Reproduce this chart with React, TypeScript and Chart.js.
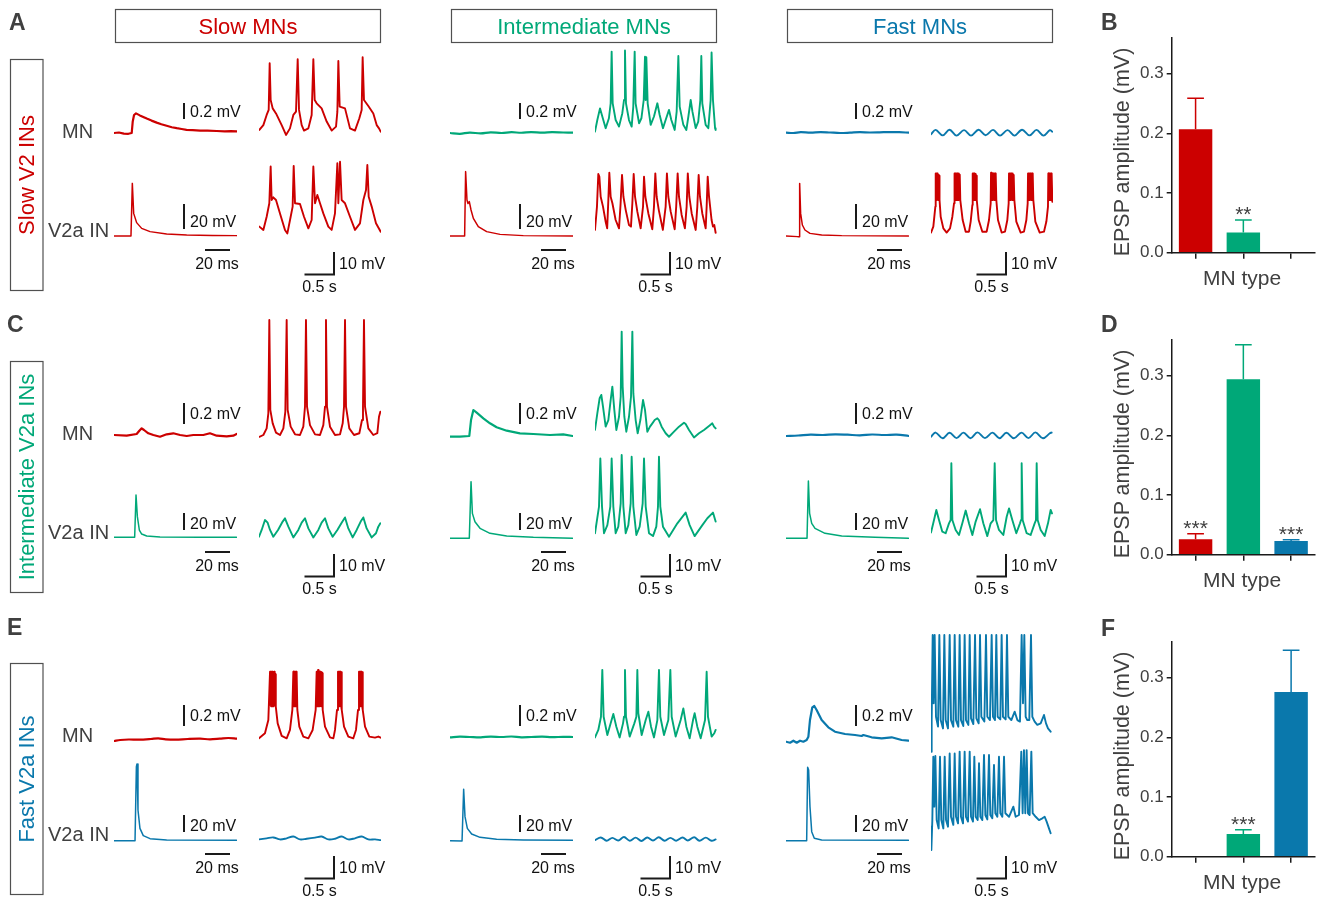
import React, { useEffect, useRef } from "react";
import { Chart, registerables } from "chart.js";

Chart.register(...registerables);

const RED = "#cc0000";
const GREEN = "#00a878";
const BLUE = "#0a78ac";
const INK = "#404040";
const BAR_INK = "#1a1a1a";
const FONT = "'Liberation Sans', Arial, Helvetica, sans-serif";
Chart.defaults.font.family = FONT;

// ---------------- recordings: flat [time, voltage] pairs ----------------
// single EPSP / spike sweeps: time in ms, voltage in mV (relative to rest)
// rhythm sweeps: time in s, voltage in mV (relative to rest)

// Row A: slow V2a INs
const aSlowMnEpsp = [0,0, 4,0.006, 8,-0.008, 11.7,-0.01, 14.4,0, 15.2,0.14, 16.3,0.225, 17.9,0.245, 21,0.22, 26.6,0.18, 30.5,0.155, 34.7,0.13, 38.5,0.11, 42.8,0.09, 47,0.072, 51,0.06, 55,0.05, 59,0.04, 64,0.036, 70,0.03, 76,0.03, 83.5,0.025, 90,0.02, 95,0.024, 99.7,0.02];
const aSlowMnRhythm = [0.006,1.4, 0.075,3.6, 0.132,8.2, 0.167,10.5, 0.184,31.7, 0.201,15, 0.236,11.2, 0.293,8.9, 0.391,3.6, 0.466,-0.9, 0.534,2.1, 0.592,8.2, 0.638,9.7, 0.667,33.5, 0.69,10.5, 0.736,3.6, 0.776,1.1, 0.851,2.1, 0.908,8.2, 0.937,33.5, 0.96,15, 0.994,13.5, 1.08,11.2, 1.167,5.2, 1.253,1.1, 1.328,2.9, 1.351,9.7, 1.368,32.7, 1.391,12, 1.483,11.2, 1.569,2.1, 1.655,1.1, 1.73,6.7, 1.77,10.5, 1.787,34.4, 1.81,15, 1.885,12.3, 1.971,8.9, 2.029,3.6, 2.069,2.1, 2.098,0.6];
const aSlowInSpike = [0,0, 13.8,0, 14.9,42.1, 16,18.1, 18.4,10.7, 22.5,6.1, 29.3,3.5, 42.8,1.6, 59.1,0.8, 80,0.4, 99.7,0.3];
const aSlowInRhythm = [0.006,2.9, 0.075,1.4, 0.132,7.4, 0.178,13.5, 0.201,30.2, 0.218,15, 0.247,16.2, 0.293,15, 0.362,8.9, 0.448,1.4, 0.489,-0.2, 0.546,7.4, 0.58,12, 0.598,30.5, 0.621,13.5, 0.707,13.2, 0.776,7.4, 0.851,2.1, 0.908,5.9, 0.937,30.2, 0.966,13.5, 1.006,17.3, 1.052,13.5, 1.109,8.9, 1.195,2.9, 1.253,1.4, 1.31,8.9, 1.351,31.7, 1.368,13.5, 1.397,32.4, 1.425,15, 1.483,13.5, 1.569,7.4, 1.655,1.4, 1.741,4.4, 1.799,15, 1.845,19.5, 1.868,30.9, 1.891,16.5, 1.943,12, 2.017,4.4, 2.098,0.6];

const aInterMnEpsp = [0,0, 8,-0.01, 16,0.005, 25,-0.005, 33,0.008, 42,0, 50,0.01, 58,0.003, 66,0.012, 75,0.004, 83,0.01, 92,0.006, 100,0.004];
const aInterMnRhythm = [0,0.6, 0.04,5.9, 0.086,11.2, 0.126,7.5, 0.184,2.2, 0.24,6.7, 0.27,13.5, 0.287,37, 0.305,13.5, 0.356,5.9, 0.414,2.9, 0.471,9, 0.5,15, 0.517,37.5, 0.534,13.5, 0.586,5.9, 0.632,2.9, 0.66,12, 0.684,37, 0.7,13.5, 0.76,4.4, 0.8,6.7, 0.84,15, 0.862,34.7, 0.874,15, 0.885,34.4, 0.908,13.5, 0.96,3.7, 1.017,7.5, 1.075,13.5, 1.115,8.2, 1.172,2.2, 1.218,5.9, 1.276,10.5, 1.316,5.9, 1.374,1.4, 1.408,9.7, 1.437,35, 1.46,12, 1.523,3.7, 1.575,1.4, 1.61,7.5, 1.65,15, 1.68,9.7, 1.736,2.2, 1.78,5.2, 1.816,15, 1.833,35, 1.85,13.5, 1.908,3.7, 1.954,2.2, 1.994,15, 2.01,36.6, 2.034,15, 2.07,2.2, 2.08,1.4];
const aInterInSpike = [0,0, 11.9,0, 12.7,51.5, 13.8,28.8, 14.6,26, 15.7,27.5, 17.1,20.8, 19,14.1, 23,7.5, 29.8,3.5, 40.7,1.3, 59.6,0.3, 99.7,0];
const aInterInRhythm = [0,1.4, 0.034,12, 0.057,26.8, 0.075,25.6, 0.098,16.5, 0.138,12, 0.184,5.1, 0.21,2.1, 0.23,15, 0.247,27.4, 0.27,16.5, 0.3,13.5, 0.356,5.9, 0.414,2.1, 0.44,12.7, 0.466,26.4, 0.49,16.5, 0.53,10.4, 0.586,3.6, 0.62,2.9, 0.644,13.5, 0.667,26.8, 0.69,16.5, 0.73,9.7, 0.787,2.1, 0.828,12, 0.845,25.6, 0.868,16.5, 0.92,8.9, 0.988,1.7, 1.017,12, 1.04,27.1, 1.063,16.5, 1.1,10.4, 1.17,1.4, 1.218,12, 1.24,27.1, 1.264,16.5, 1.305,9.7, 1.374,1.7, 1.4,12, 1.425,27.1, 1.448,16.5, 1.494,8.2, 1.55,2.1, 1.58,12, 1.6,27.1, 1.626,16.5, 1.667,8.9, 1.736,1.4, 1.764,12, 1.787,26.4, 1.81,16.5, 1.85,8.9, 1.908,2.1, 1.925,12, 1.943,25.6, 1.966,16.5, 2.01,5.9, 2.034,2.9, 2.057,3.6, 2.08,0.1];

const aFastMnEpsp = [0,0.005, 6,0, 12,0.01, 20,0.004, 28,0.012, 36,0.006, 44,0, 52,0.004, 60,0.01, 68,0.006, 76,0.008, 84,0.012, 92,0.01, 100,0.004];
const aFastMnRhythm = [0,-0.6, 0.08,1.4, 0.2,-1.1, 0.32,1.5, 0.44,-1.2, 0.57,1.3, 0.69,-1.2, 0.82,1.5, 0.94,-1.0, 1.07,1.4, 1.19,-1.2, 1.32,1.3, 1.44,-1.2, 1.57,1.5, 1.7,-1.1, 1.82,1.4, 1.94,-1.2, 2.05,1.3, 2.09,0.6];
const aFastInSpike = [0,0, 9.5,-0.5, 10.6,-0.5, 11.1,42.1, 11.9,18.1, 13.3,8.8, 15.4,4.8, 19.5,2.1, 29,0.8, 45.3,0.3, 99.5,0];
const aFastInRhythm = [0,0.2, 0.04,2.9, 0.075,12,
  0.081,27.1, 0.087,15, 0.093,27.1, 0.099,15.5, 0.105,27.1, 0.111,16, 0.117,27.1, 0.123,15, 0.129,26.4, 0.135,15.5, 0.141,26, 0.147,15,
  0.167,7.4, 0.213,2.1, 0.27,0.2,
  0.328,2.1, 0.368,7.4, 0.397,13.5,
  0.403,27.1, 0.409,15, 0.415,27.1, 0.421,15.5, 0.427,27.1, 0.433,15, 0.439,27.1, 0.445,16, 0.451,27.1, 0.457,15, 0.463,27.1, 0.469,15.5, 0.475,27.1, 0.481,15, 0.487,26.5, 0.493,16, 0.499,26, 0.505,15, 0.511,15,
  0.546,5.9, 0.598,0.6, 0.655,0.6,
  0.684,5.2, 0.713,12.7,
  0.719,27.1, 0.725,15, 0.731,27.1, 0.737,15.5, 0.743,27.1, 0.749,15, 0.755,26.8, 0.761,15.5, 0.767,26.8, 0.773,15, 0.779,26, 0.785,15, 0.793,15,
  0.822,5.9, 0.885,0.6, 0.96,0.6,
  1,5.9, 1.029,13.5,
  1.035,27.4, 1.041,15, 1.047,27.1, 1.053,15.5, 1.059,27.1, 1.065,15, 1.071,27.1, 1.077,16, 1.083,27.1, 1.089,15, 1.095,27.1, 1.101,15.5, 1.107,27.1, 1.113,15, 1.119,26.5, 1.126,15,
  1.155,5.9, 1.218,0.2, 1.276,0.6,
  1.316,5.9, 1.339,13.5,
  1.345,27.1, 1.351,15, 1.357,27.1, 1.363,15.5, 1.369,27.1, 1.375,15, 1.381,27.1, 1.387,16, 1.393,27.1, 1.399,15, 1.405,27.1, 1.411,15.5, 1.417,26.4, 1.423,15, 1.429,26, 1.437,15,
  1.471,5.2, 1.546,0.2, 1.603,0.6,
  1.644,5.9, 1.667,13.5,
  1.673,27.1, 1.679,15, 1.685,27.1, 1.691,15.5, 1.697,27.1, 1.703,15, 1.709,27.1, 1.715,16, 1.721,27.1, 1.727,15, 1.733,27.1, 1.739,15.5, 1.745,27.1, 1.751,15, 1.757,26.5, 1.764,15,
  1.799,5.2, 1.874,0.2, 1.948,0.6,
  1.989,5.2, 2.017,12,
  2.023,27.1, 2.029,15, 2.035,27.1, 2.041,15.5, 2.047,27.1, 2.053,15, 2.059,27.1, 2.065,16, 2.071,27.1, 2.077,15, 2.083,27.1, 2.092,14.2];

// Row C: intermediate V2a INs
const cSlowMnEpsp = [0,0, 10.3,-0.007, 18.4,0.01, 20.6,0.043, 22.5,0.067, 24.4,0.05, 27.9,0.017, 32,0, 37.4,-0.017, 42.8,0.007, 48.2,0.017, 53.7,0, 59.1,-0.01, 64.5,0, 72.6,0, 78,0.017, 83.5,-0.007, 91.6,-0.013, 97,-0.007, 99.7,0.01];
const cSlowMnRhythm = [0.006,-0.8, 0.075,0, 0.132,3, 0.161,9.8, 0.178,52.3, 0.195,11.4, 0.236,5.3, 0.293,1.1, 0.362,0, 0.42,3, 0.454,10.6, 0.477,52.3, 0.494,11.4, 0.546,3.8, 0.621,0.3, 0.707,0, 0.764,3.8, 0.793,12.9, 0.81,52.3, 0.828,12.9, 0.879,4.5, 0.966,0.3, 1.052,0, 1.109,4.5, 1.138,12.9, 1.155,52.3, 1.172,12.9, 1.224,3.8, 1.31,0, 1.397,0.3, 1.443,5.3, 1.466,12.9, 1.483,52.3, 1.5,12.9, 1.557,3, 1.638,0, 1.73,0.8, 1.776,6.8, 1.793,12.9, 1.81,52.3, 1.828,12.9, 1.885,3, 1.971,0, 2.04,0.8, 2.069,8.3, 2.092,10.6];
const cSlowInSpike = [0,0.8, 16.8,0.8, 17.9,50.6, 19,25.1, 20.6,9.4, 22.5,4.7, 26.6,2.4, 37.4,1.2, 69.9,0.8, 99.7,0.8];
const cSlowInRhythm = [0,-0.8, 0.046,2.3, 0.103,6.8, 0.149,5.6, 0.19,2.3, 0.247,-0.8, 0.328,2.3, 0.408,6.1, 0.448,7.6, 0.506,3.8, 0.592,-1.1, 0.678,2.3, 0.736,5.6, 0.793,7.6, 0.851,3, 0.937,-1.1, 1.023,2.3, 1.08,5.6, 1.138,7.6, 1.195,3, 1.27,-0.8, 1.351,2.3, 1.425,5.6, 1.483,8, 1.54,3, 1.615,-1.1, 1.684,2.3, 1.753,6.1, 1.799,8, 1.856,3, 1.943,-1.1, 2.017,0.8, 2.057,3.8, 2.092,5.3];

const cInterMnEpsp = [0,-0.017, 8.1,-0.017, 15.7,-0.01, 17.1,0.15, 19,0.25, 21.7,0.223, 27.1,0.167, 32.5,0.117, 37.9,0.077, 46.1,0.043, 56.9,0.017, 67.8,0.01, 81.3,0, 92.1,0.007, 99.7,-0.01];
const cInterMnRhythm = [0,2.3, 0.04,9.8, 0.08,16.7, 0.109,18.2, 0.138,12.9, 0.184,3.8, 0.23,6.8, 0.27,15.9, 0.299,22, 0.333,11.4, 0.368,2.3, 0.414,8.3, 0.443,17.4, 0.46,47, 0.477,22, 0.506,8.3, 0.54,1.5, 0.586,8.3, 0.621,17.4, 0.644,47, 0.661,18.9, 0.701,6.8, 0.736,0.8, 0.782,6.8, 0.828,15.9, 0.862,11.4, 0.902,1.5, 0.948,3.8, 0.989,5.3, 1.029,6.8, 1.075,7.6, 1.103,6.8, 1.149,3.8, 1.218,0.8, 1.276,-0.8, 1.362,1.5, 1.448,3.8, 1.534,5.6, 1.563,5, 1.621,2.3, 1.707,-1.1, 1.793,0.8, 1.879,2.3, 1.966,4.1, 2.023,5.3, 2.052,3.8, 2.08,3];
const cInterInSpike = [0,-0.4, 15.7,-0.4, 17.1,66.3, 18.2,29, 20.3,19.2, 24.4,11.4, 32.5,5.5, 46.1,2.4, 67.8,0.8, 99.7,-0.4];
const cInterInRhythm = [0,0.8, 0.069,12.9, 0.092,34.8, 0.121,12.9, 0.155,0.8, 0.213,4.5, 0.264,12.9, 0.287,34.8, 0.316,12.9, 0.356,0.8, 0.402,3.8, 0.443,14.4, 0.46,36.4, 0.489,12.9, 0.529,0.8, 0.575,4.5, 0.615,14.4, 0.632,35.6, 0.661,12.9, 0.713,0, 0.77,3.8, 0.822,14.4, 0.845,34.8, 0.874,12.9, 0.931,0.8, 1,-0.5, 1.057,3.8, 1.086,12.9, 1.103,35.6, 1.126,12.9, 1.172,3.8, 1.276,-0.8, 1.42,5.3, 1.563,10.2, 1.632,4.5, 1.718,-0.5, 1.851,4.5, 1.937,7.6, 2.034,10.2, 2.08,6.1];

const cFastMnEpsp = [0,-0.01, 10,-0.005, 20,0.003, 30,0, 40,0.007, 50,0.003, 60,-0.003, 70,0.005, 80,0, 90,0.004, 100,-0.01];
const cFastMnRhythm = [0,-0.8, 0.08,1.1, 0.2,-1.5, 0.32,1.0, 0.44,-1.4, 0.56,1.1, 0.68,-1.5, 0.8,1.2, 0.93,-1.4, 1.06,1.1, 1.18,-1.5, 1.3,1.0, 1.43,-1.5, 1.56,1.1, 1.68,-1.4, 1.8,1.2, 1.93,-1.5, 2.05,0.8, 2.08,1.1];
const cFastInSpike = [0,-0.4, 17.1,-0.4, 18.2,67, 19.2,29, 20.9,17.3, 23.6,11.4, 31.7,5.5, 45.3,2.4, 72.4,0.8, 99.5,-0.4];
const cFastInRhythm = [0,1.1, 0.052,6.8, 0.092,11.4, 0.138,6.8, 0.195,1.5, 0.253,0.8, 0.31,5.3, 0.339,6.8, 0.351,32.6, 0.368,6.8, 0.425,2.3, 0.483,0, 0.54,5.3, 0.598,11.1, 0.655,5.3, 0.713,0, 0.77,6.1, 0.845,11.7, 0.902,5.3, 0.971,-0.5, 1.029,5.3, 1.075,6.8, 1.098,32.6, 1.121,6.8, 1.172,2.3, 1.247,0, 1.305,8.3, 1.345,12.1, 1.402,6.8, 1.471,0.8, 1.534,5.3, 1.552,6.8, 1.563,32.6, 1.58,6.8, 1.649,0.8, 1.718,0, 1.787,5.3, 1.81,6.8, 1.822,32.6, 1.839,6.8, 1.891,2.3, 1.96,-0.5, 2.017,5.3, 2.063,11.4, 2.086,9.8];

// Row E: fast V2a INs
const eSlowMnEpsp = [0,-0.04, 5,-0.03, 12,-0.025, 20,-0.027, 30,-0.02, 36,-0.013, 42,-0.023, 50,-0.027, 60,-0.02, 70,-0.017, 78,-0.023, 86,-0.017, 93,-0.01, 100,-0.017];
const eSlowMnRhythm = [0,-0.6, 0.103,1.7, 0.161,7.7,
  0.19,29.7, 0.196,14.5, 0.202,29.7, 0.208,14, 0.214,29.7, 0.22,14.5, 0.226,29.7, 0.232,14, 0.238,29.7, 0.244,14.5, 0.25,29.5, 0.256,14, 0.262,29.7, 0.268,14.5, 0.274,29, 0.28,15, 0.286,28.5, 0.293,13.8,
  0.322,6.2, 0.391,0.5, 0.477,-0.6,
  0.534,3.2, 0.575,12.3,
  0.592,29.7, 0.598,14, 0.604,29.7, 0.61,14.5, 0.616,29.7, 0.622,14, 0.628,29.7, 0.634,14.5, 0.64,29.7, 0.646,14, 0.652,29, 0.661,12.3,
  0.695,4.7, 0.764,0.2, 0.851,-0.6,
  0.925,3.2, 0.977,12.3,
  0.994,29.7, 1,14, 1.006,29.7, 1.012,14.5, 1.018,30.5, 1.024,14, 1.03,30.5, 1.036,14.5, 1.042,29.7, 1.048,14, 1.054,29.7, 1.06,14.5, 1.066,29.7, 1.072,14, 1.078,29.5, 1.084,14.5, 1.09,29, 1.098,12.3,
  1.138,4.7, 1.224,-0.2, 1.282,-0.6,
  1.31,3.2, 1.345,12.3,
  1.362,29.7, 1.368,14, 1.374,29.7, 1.38,14.5, 1.386,29.7, 1.392,14, 1.398,29.7, 1.404,14.5, 1.41,29.7, 1.416,14, 1.422,29.5, 1.431,12.3,
  1.466,4.7, 1.54,0.2, 1.626,-0.6,
  1.672,3.2, 1.707,12.3,
  1.724,29.7, 1.73,14, 1.736,29.7, 1.742,14.5, 1.748,29.7, 1.754,14, 1.76,29.7, 1.766,14.5, 1.772,29.7, 1.778,14, 1.784,29.5, 1.793,12.3,
  1.828,4.7, 1.902,0.2, 2,-0.3, 2.057,0.2, 2.098,-0.3];
const eSlowInSpike = [0,-0.8, 17.1,-0.8, 18.2,86.3, 18.7,89.4, 19.5,35.3, 21.1,13.7, 23.8,5.1, 29.3,1.6, 42.8,0, 99.7,-0.4];
const eSlowInRhythm = [0,-1.1, 0.132,-0.6, 0.247,-0.2, 0.362,-1.1, 0.477,-0.6, 0.592,0.2, 0.707,-1.1, 0.822,-0.8, 0.966,-0.3, 1.08,0.2, 1.195,-1.1, 1.31,-0.8, 1.425,0.2, 1.54,-1.1, 1.655,-0.6, 1.77,0.2, 1.885,-1.1, 2,-1.1, 2.098,-1.4];

const eInterMnEpsp = [0,-0.003, 8,0.003, 16,0, 25,-0.003, 33,0.004, 42,0, 50,0.005, 58,-0.003, 66,0, 75,0.003, 83,-0.002, 92,0.002, 100,0];
const eInterMnRhythm = [0,-0.2, 0.057,3.2, 0.103,9.2, 0.126,30.5, 0.149,9.2, 0.213,0.9, 0.27,6.2, 0.316,10.5, 0.368,4.7, 0.425,-0.2, 0.483,6.2, 0.5,9.2, 0.517,30.5, 0.534,9.2, 0.598,0.2, 0.678,6.2, 0.713,9.2, 0.73,30.5, 0.747,10.8, 0.805,0.9, 0.874,7.7, 0.92,11.5, 0.966,4.7, 1.017,-0.2, 1.075,7.7, 1.103,30.5, 1.126,9.2, 1.19,0.9, 1.264,7.7, 1.299,30.5, 1.322,9.2, 1.391,0.2, 1.477,7.7, 1.523,13, 1.575,4.7, 1.632,-0.6, 1.69,7.7, 1.718,10.8, 1.764,4.7, 1.822,-0.6, 1.897,7.7, 1.925,29.7, 1.948,9.2, 2.011,0.2, 2.057,1.7, 2.08,3.2];
const eInterInSpike = [0,-0.8, 9.8,-1.2, 10.3,-1.2, 11.1,59.6, 12.2,27.5, 14.1,13.7, 17.6,7.1, 24.4,3.1, 37.9,0.8, 59.6,0, 99.7,-0.4];
const eInterInRhythm = [0,-1.4, 0.1,-0.2, 0.2,-1.7, 0.3,-0.4, 0.4,-1.6, 0.5,0, 0.6,-1.7, 0.7,-0.3, 0.8,-1.8, 0.9,-0.2, 1,-1.6, 1.1,-0.1, 1.2,-1.7, 1.3,-0.4, 1.4,-1.7, 1.51,-0.2, 1.6,-1.6, 1.71,-0.1, 1.8,-1.7, 1.91,-0.3, 2.01,-1.7, 2.08,-1.1];

const eFastMnEpsp = [0,-0.047, 3.3,-0.057, 6,-0.037, 8.7,-0.057, 11.4,-0.037, 14.1,-0.047, 16.8,-0.03, 18.2,0.003, 19.5,0.17, 21.4,0.297, 23,0.31, 24.9,0.27, 29,0.17, 34.4,0.097, 39.8,0.053, 48,0.03, 56.1,0.02, 61.5,0.01, 62.9,0.02, 69.6,-0.003, 77.8,-0.013, 85.9,-0.003, 94,-0.03, 99.5,-0.037];
const eFastMnRhythm = [0,1.7, 0.006,-6.7, 0.017,7.7, 0.029,46.4, 0.046,15.3, 0.063,46.4, 0.086,9.2, 0.121,4.7, 0.144,46.4, 0.167,7.7, 0.207,3.9, 0.23,46.4, 0.253,7.7, 0.293,3.9, 0.322,46.4, 0.345,7.7, 0.385,4.7, 0.408,46.4, 0.431,7.7, 0.471,4.7, 0.494,46.4, 0.517,7.7, 0.557,5, 0.58,46.4, 0.603,7.7, 0.644,5.5, 0.667,46.4, 0.69,8.5, 0.73,5.9, 0.759,46.4, 0.782,8.5, 0.822,6.2, 0.845,46.4, 0.868,9.2, 0.92,7, 0.948,46.4, 0.971,9.2, 1.017,7.7, 1.046,46.4, 1.069,9.2, 1.103,7.7, 1.126,46.4, 1.149,9.2, 1.195,8, 1.218,46.4, 1.241,9.2, 1.287,8, 1.31,46.4, 1.333,9.2, 1.385,7.7, 1.443,11.5, 1.489,7.7, 1.534,7, 1.563,46.4, 1.586,15.3, 1.609,46.4, 1.632,9.2, 1.66,7.7, 1.695,7.7, 1.724,46.4, 1.747,9.2, 1.787,7, 1.833,5.5, 1.891,6.2, 1.948,10, 1.983,6.2, 2.017,3.9, 2.063,2.4];
const eFastInSpike = [0,-0.8, 16.8,-0.8, 17.6,85.5, 18.4,82.4, 19.5,39.2, 20.9,9.8, 23,2, 29,0, 99.5,-0.4];
const eFastInRhythm = [0,4.7, 0.006,-5.9, 0.023,7.7, 0.04,36.5, 0.057,13.8, 0.075,36.8, 0.098,7.7, 0.132,3.9, 0.155,36.5, 0.178,7.7, 0.213,3.9, 0.236,36.5, 0.259,7.7, 0.293,4.7, 0.322,38, 0.345,9.2, 0.385,5.5, 0.408,38, 0.431,9.2, 0.466,6.2, 0.494,38.8, 0.517,9.2, 0.552,6.2, 0.58,38.8, 0.603,9.2, 0.638,7, 0.667,38.8, 0.69,9.2, 0.724,7, 0.747,36.5, 0.77,9.2, 0.805,7.7, 0.828,33.5, 0.851,9.2, 0.885,7.7, 0.914,37.3, 0.937,10, 0.971,8, 1,37.3, 1.023,10, 1.057,8.5, 1.086,32.7, 1.109,10.8, 1.144,9.2, 1.172,36.5, 1.195,10.8, 1.23,9.2, 1.259,36.5, 1.282,10.8, 1.345,9.2, 1.42,13.8, 1.46,9.2, 1.517,10, 1.557,38.8, 1.58,10.8, 1.603,39.5, 1.626,10.8, 1.649,39.5, 1.672,10.8, 1.701,10, 1.73,38.8, 1.753,10.8, 1.805,9.2, 1.862,7.7, 1.92,8.5, 1.96,9.2, 1.994,7, 2.034,3.9, 2.063,1.7];

const smoothTraces = new Set([aInterMnEpsp, aFastMnEpsp, aFastMnRhythm, cFastMnEpsp, cFastMnRhythm, eSlowMnEpsp, eSlowInRhythm, eInterMnEpsp, eInterInRhythm]);

// ---------------- bar panels (EPSP amplitude, mV) ----------------
const mnTypes = ["Slow", "Intermediate", "Fast"];
const epspB = [0.207, 0.034, null];
const semB = [0.052, 0.021, null];
const sigB = ["", "**", ""];
const epspD = [0.026, 0.294, 0.023];
const semD = [0.009, 0.058, 0.002];
const sigD = ["***", "", "***"];
const epspF = [null, 0.038, 0.276];
const semF = [null, 0.007, 0.07];
const sigF = ["", "***", ""];
const yTicks = [0, 0.1, 0.2, 0.3];

const typeColors = [RED, GREEN, BLUE];
const columnTitles = ["Slow MNs", "Intermediate MNs", "Fast MNs"];
const rowTitles = ["Slow V2 INs", "Intermediate V2a INs", "Fast V2a INs"];

// ---------------- layout ----------------
const rowY = [0, 302, 604];
const colX = [0, 336, 672];
const mnEpspPx = [80, 100, 100]; // px per mV (0.2 mV bar)
const inSpikePx = [1.25, 0.85, 0.85]; // px per mV (20 mV bar)
const rhythmPx = 2.2; // px per mV (10 mV bar)
const mnBar = [[103, 119], [101, 122], [101, 122]];
const inBar = [[204, 229], [211, 228], [211, 228]];

const groups = [
  { r: 0, c: 0, mnEpsp: aSlowMnEpsp, mnRhythm: aSlowMnRhythm, inSpike: aSlowInSpike, inRhythm: aSlowInRhythm },
  { r: 0, c: 1, mnEpsp: aInterMnEpsp, mnRhythm: aInterMnRhythm, inSpike: aInterInSpike, inRhythm: aInterInRhythm },
  { r: 0, c: 2, mnEpsp: aFastMnEpsp, mnRhythm: aFastMnRhythm, inSpike: aFastInSpike, inRhythm: aFastInRhythm },
  { r: 1, c: 0, mnEpsp: cSlowMnEpsp, mnRhythm: cSlowMnRhythm, inSpike: cSlowInSpike, inRhythm: cSlowInRhythm },
  { r: 1, c: 1, mnEpsp: cInterMnEpsp, mnRhythm: cInterMnRhythm, inSpike: cInterInSpike, inRhythm: cInterInRhythm },
  { r: 1, c: 2, mnEpsp: cFastMnEpsp, mnRhythm: cFastMnRhythm, inSpike: cFastInSpike, inRhythm: cFastInRhythm },
  { r: 2, c: 0, mnEpsp: eSlowMnEpsp, mnRhythm: eSlowMnRhythm, inSpike: eSlowInSpike, inRhythm: eSlowInRhythm },
  { r: 2, c: 1, mnEpsp: eInterMnEpsp, mnRhythm: eInterMnRhythm, inSpike: eInterInSpike, inRhythm: eInterInRhythm },
  { r: 2, c: 2, mnEpsp: eFastMnEpsp, mnRhythm: eFastMnRhythm, inSpike: eFastInSpike, inRhythm: eFastInRhythm },
];

function Trace(props: any) {
  const { x, y, w, h, base, pxPerUnit, xMax, pts, color, lw } = props;
  const ref = useRef<HTMLCanvasElement | null>(null);
  useEffect(() => {
    const data: { x: number; y: number }[] = [];
    for (let i = 0; i + 1 < pts.length; i += 2) data.push({ x: pts[i], y: pts[i + 1] });
    const smooth = smoothTraces.has(pts);
    const chart = new Chart(ref.current as HTMLCanvasElement, {
      type: "line",
      data: {
        datasets: [
          {
            data,
            borderColor: color,
            borderWidth: lw,
            pointRadius: 0,
            tension: smooth ? 0.35 : 0,
            fill: false,
            clip: false,
            borderJoinStyle: "round",
            borderCapStyle: "round",
          } as any,
        ],
      },
      options: {
        animation: false,
        responsive: false,
        maintainAspectRatio: false,
        events: [],
        layout: { padding: 0 },
        plugins: { legend: { display: false }, tooltip: { enabled: false } },
        scales: {
          x: { type: "linear", display: false, min: 0, max: xMax },
          y: { type: "linear", display: false, min: -(h - base) / pxPerUnit, max: base / pxPerUnit },
        },
      },
    });
    return () => chart.destroy();
  }, []);
  return (
    <canvas
      ref={ref}
      width={w}
      height={h}
      style={{ position: "absolute", left: x, top: y, width: w, height: h }}
    />
  );
}

function BarPanel(props: any) {
  const { top, values, errs, sig } = props;
  const ref = useRef<HTMLCanvasElement | null>(null);
  useEffect(() => {
    const semPlugin = {
      id: "semBars",
      afterDatasetsDraw(chart: any) {
        const ctx = chart.ctx;
        const meta = chart.getDatasetMeta(0);
        const ys = chart.scales.y;
        meta.data.forEach((bar: any, i: number) => {
          const v = values[i];
          if (v == null) return;
          const e = errs[i] || 0;
          const bx = bar.x;
          const bw = bar.width;
          const y0 = ys.getPixelForValue(v);
          const y1 = ys.getPixelForValue(v + e);
          ctx.save();
          ctx.strokeStyle = typeColors[i];
          ctx.lineWidth = 1.5;
          if (e > 0) {
            ctx.beginPath();
            ctx.moveTo(bx, y0);
            ctx.lineTo(bx, y1);
            ctx.moveTo(bx - bw / 4, y1);
            ctx.lineTo(bx + bw / 4, y1);
            ctx.stroke();
          }
          if (sig[i]) {
            ctx.fillStyle = INK;
            ctx.font = `21px ${FONT}`;
            ctx.textAlign = "center";
            ctx.textBaseline = "alphabetic";
            ctx.fillText(sig[i], bx, y1 + 1);
          }
          ctx.restore();
        });
      },
    };
    const chart = new Chart(ref.current as HTMLCanvasElement, {
      type: "bar",
      data: {
        labels: mnTypes,
        datasets: [
          {
            data: values,
            backgroundColor: typeColors,
            borderWidth: 0,
            barPercentage: 0.7,
            categoryPercentage: 1,
          } as any,
        ],
      },
      options: {
        animation: false,
        responsive: false,
        maintainAspectRatio: false,
        events: [],
        layout: { padding: { top: 38, right: 2, left: 0, bottom: 0 } },
        plugins: { legend: { display: false }, tooltip: { enabled: false } },
        scales: {
          x: {
            type: "category",
            offset: true,
            grid: { display: true, offset: false, drawOnChartArea: false, drawTicks: true, tickLength: 6, color: BAR_INK, lineWidth: 1.5 },
            border: { display: true, color: BAR_INK, width: 1.5 },
            ticks: { display: false },
            afterFit: (s: any) => {
              s.height = 47.3;
            },
          },
          y: {
            type: "linear",
            min: 0,
            max: 0.36,
            grid: { drawOnChartArea: false, drawTicks: true, tickLength: 5, color: BAR_INK, lineWidth: 1.5 },
            border: { display: true, color: BAR_INK, width: 1.5 },
            afterBuildTicks: (s: any) => {
              s.ticks = yTicks.map((v) => ({ value: v }));
            },
            ticks: {
              padding: 3,
              color: INK,
              font: { family: FONT, size: 17 },
              callback: (v: any) => Number(v).toFixed(1),
            },
            afterFit: (s: any) => {
              s.width = 76.7;
            },
          },
        },
      } as any,
      plugins: [semPlugin],
    });
    return () => chart.destroy();
  }, []);
  return (
    <canvas
      ref={ref}
      width={222}
      height={300}
      style={{ position: "absolute", left: 1095, top, width: 222, height: 300 }}
    />
  );
}

function Annotations() {
  const els: any[] = [];
  const letters: [string, number, number][] = [
    ["A", 9, 30], ["B", 1101, 30], ["C", 7, 332], ["D", 1101, 332], ["E", 7, 635], ["F", 1101, 636],
  ];
  letters.forEach(([t, x, y]) =>
    els.push(
      <text key={"L" + t} x={x} y={y} fontSize={23} fontWeight="bold" fill={INK}>
        {t}
      </text>
    )
  );
  colX.forEach((X, c) => {
    els.push(<rect key={"hb" + c} x={115.5 + X} y={9.5} width={265} height={33} fill="none" stroke="#505050" strokeWidth={1.2} />);
    els.push(
      <text key={"ht" + c} x={248 + X} y={34} fontSize={22} textAnchor="middle" fill={typeColors[c]}>
        {columnTitles[c]}
      </text>
    );
  });
  rowY.forEach((Y, r) => {
    els.push(<rect key={"rb" + r} x={10.5} y={59.5 + Y} width={32.5} height={231} fill="none" stroke="#505050" strokeWidth={1.2} />);
    els.push(
      <text
        key={"rt" + r}
        transform={`translate(26.7 ${175 + Y}) rotate(-90)`}
        fontSize={22}
        textAnchor="middle"
        dominantBaseline="central"
        fill={typeColors[r]}
      >
        {rowTitles[r]}
      </text>
    );
    els.push(
      <text key={"mn" + r} x={62} y={138 + Y} fontSize={20} fill={INK}>
        MN
      </text>
    );
    els.push(
      <text key={"in" + r} x={48} y={237 + Y} fontSize={20} fill={INK}>
        V2a IN
      </text>
    );
    colX.forEach((X, c) => {
      const k = r + "_" + c;
      els.push(<line key={"b1" + k} x1={184 + X} x2={184 + X} y1={Y + mnBar[r][0]} y2={Y + mnBar[r][1]} stroke={BAR_INK} strokeWidth={2} />);
      els.push(
        <text key={"t1" + k} x={190 + X} y={Y + 117} fontSize={16} fill="#111">
          0.2 mV
        </text>
      );
      els.push(<line key={"b2" + k} x1={184 + X} x2={184 + X} y1={Y + inBar[r][0]} y2={Y + inBar[r][1]} stroke={BAR_INK} strokeWidth={2} />);
      els.push(
        <text key={"t2" + k} x={190 + X} y={Y + 227} fontSize={16} fill="#111">
          20 mV
        </text>
      );
      els.push(<line key={"b3" + k} x1={205 + X} x2={230 + X} y1={Y + 250} y2={Y + 250} stroke={BAR_INK} strokeWidth={2} />);
      els.push(
        <text key={"t3" + k} x={217 + X} y={Y + 269} fontSize={16} textAnchor="middle" fill="#111">
          20 ms
        </text>
      );
      els.push(
        <polyline
          key={"b4" + k}
          points={`${334 + X},${Y + 252} ${334 + X},${Y + 274.5} ${304.5 + X},${Y + 274.5}`}
          fill="none"
          stroke={BAR_INK}
          strokeWidth={2}
        />
      );
      els.push(
        <text key={"t4" + k} x={339 + X} y={Y + 269} fontSize={16} fill="#111">
          10 mV
        </text>
      );
      els.push(
        <text key={"t5" + k} x={319.5 + X} y={Y + 292} fontSize={16} textAnchor="middle" fill="#111">
          0.5 s
        </text>
      );
    });
    // bar panel axis titles
    els.push(
      <text
        key={"yt" + r}
        transform={`translate(1122 ${152 + Y}) rotate(-90)`}
        fontSize={21.5}
        textAnchor="middle"
        dominantBaseline="central"
        fill={INK}
      >
        EPSP amplitude (mV)
      </text>
    );
    els.push(
      <text key={"xt" + r} x={1242} y={285 + Y} fontSize={21} textAnchor="middle" fill={INK}>
        MN type
      </text>
    );
  });
  return (
    <svg
      width={1317}
      height={901}
      style={{ position: "absolute", left: 0, top: 0, pointerEvents: "none" }}
      fontFamily={FONT}
    >
      {els}
    </svg>
  );
}

export default function App() {
  const traces: any[] = [];
  groups.forEach((g) => {
    const X = colX[g.c];
    const Y = rowY[g.r];
    const mnColor = typeColors[g.c];
    const inColor = typeColors[g.r];
    const k = g.r + "_" + g.c;
    traces.push(
      <Trace key={"me" + k} x={114 + X} y={40 + Y} w={123} h={115} base={93} pxPerUnit={mnEpspPx[g.r]} xMax={100} pts={g.mnEpsp} color={mnColor} lw={2.2} />
    );
    traces.push(
      <Trace key={"is" + k} x={114 + X} y={150 + Y} w={123} h={100} base={86} pxPerUnit={inSpikePx[g.r]} xMax={100} pts={g.inSpike} color={inColor} lw={1.5} />
    );
    traces.push(
      <Trace key={"mr" + k} x={259 + X} y={10 + Y} w={122} h={142} base={123} pxPerUnit={rhythmPx} xMax={122 / 58} pts={g.mnRhythm} color={mnColor} lw={1.9} />
    );
    traces.push(
      <Trace key={"ir" + k} x={259 + X} y={140 + Y} w={122} h={120} base={93} pxPerUnit={rhythmPx} xMax={122 / 58} pts={g.inRhythm} color={inColor} lw={1.9} />
    );
  });
  const panels = [
    { values: epspB, errs: semB, sig: sigB },
    { values: epspD, errs: semD, sig: sigD },
    { values: epspF, errs: semF, sig: sigF },
  ];
  return (
    <div
      style={{
        position: "absolute",
        left: 0,
        top: 0,
        width: 1317,
        height: 901,
        background: "#ffffff",
        overflow: "hidden",
        fontFamily: FONT,
      }}
    >
      {traces}
      {panels.map((p, i) => (
        <BarPanel key={"bar" + i} top={rowY[i]} values={p.values} errs={p.errs} sig={p.sig} />
      ))}
      <Annotations />
    </div>
  );
}
